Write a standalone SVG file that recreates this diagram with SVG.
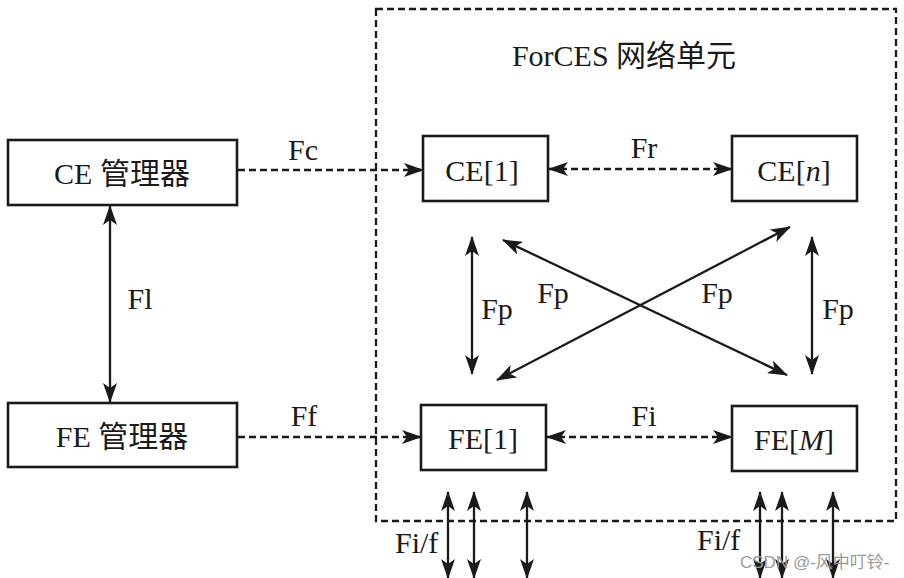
<svg xmlns="http://www.w3.org/2000/svg" width="904" height="578" viewBox="0 0 904 578">
<defs>
<marker id="ah" viewBox="0 0 20 14" markerWidth="20" markerHeight="14" refX="19" refY="7" orient="auto-start-reverse" markerUnits="userSpaceOnUse">
<path d="M0,0 L20,7 L0,14 L5,7 z" fill="#1a1a1a"/>
</marker>
<style>
.box{fill:#fff;stroke:#1a1a1a;stroke-width:2.6}
.t{font-family:"Liberation Serif","Noto Sans CJK SC",serif;font-size:30px;fill:#1a1a1a}
.c{stroke:#1a1a1a;stroke-width:2.3;fill:none}
.d{stroke-dasharray:7 4}
.one{marker-end:url(#ah)}
.two{marker-start:url(#ah);marker-end:url(#ah)}
</style>
</defs>
<rect width="904" height="578" fill="#fff"/>
<g id="forces-ne">
<rect x="376" y="9" width="520" height="512" fill="none" stroke="#1a1a1a" stroke-width="2.3" stroke-dasharray="7 4"/>
<text class="t" x="624" y="66" text-anchor="middle">ForCES 网络单元</text>
</g>
<g id="connectors">
<line class="c d one" x1="238" y1="170" x2="423" y2="170"/>
<line class="c d one" x1="238" y1="437" x2="421" y2="437"/>
<line class="c two" x1="110" y1="206" x2="110" y2="402"/>
<line class="c d two" x1="549" y1="169" x2="732" y2="169"/>
<line class="c d two" x1="547" y1="437" x2="732" y2="437"/>
<line class="c two" x1="472" y1="237" x2="472" y2="374"/>
<line class="c two" x1="812" y1="237" x2="812" y2="374"/>
<line class="c two" x1="503" y1="240" x2="787" y2="375"/>
<line class="c two" x1="790" y1="227" x2="497" y2="380"/>
<line class="c two" x1="448" y1="492" x2="448" y2="578"/>
<line class="c two" x1="474" y1="492" x2="474" y2="578"/>
<line class="c two" x1="527" y1="492" x2="527" y2="578"/>
<line class="c two" x1="760" y1="492" x2="760" y2="578"/>
<line class="c two" x1="782" y1="492" x2="782" y2="578"/>
<line class="c two" x1="833" y1="492" x2="833" y2="578"/>
<text class="t" x="303" y="160" text-anchor="middle">Fc</text>
<text class="t" x="304" y="426" text-anchor="middle">Ff</text>
<text class="t" x="140" y="309" text-anchor="middle">Fl</text>
<text class="t" x="644" y="158" text-anchor="middle">Fr</text>
<text class="t" x="644" y="426" text-anchor="middle">Fi</text>
<text class="t" x="497" y="319" text-anchor="middle">Fp</text>
<text class="t" x="553" y="303" text-anchor="middle">Fp</text>
<text class="t" x="717" y="303" text-anchor="middle">Fp</text>
<text class="t" x="838" y="319" text-anchor="middle">Fp</text>
<text class="t" x="395" y="553">Fi/f</text>
<text class="t" x="697" y="550">Fi/f</text>
</g>
<g id="ce-manager">
<rect class="box" x="8" y="140" width="229" height="65"/>
<text class="t" x="122" y="184" text-anchor="middle">CE 管理器</text>
</g>
<g id="fe-manager">
<rect class="box" x="8" y="403" width="229" height="64"/>
<text class="t" x="122" y="447" text-anchor="middle">FE 管理器</text>
</g>
<g id="ce1">
<rect class="box" x="423" y="136" width="125" height="65"/>
<text class="t" x="482" y="181" text-anchor="middle">CE[1]</text>
</g>
<g id="cen">
<rect class="box" x="732" y="136" width="125" height="65"/>
<text class="t" x="794" y="181" text-anchor="middle">CE[<tspan font-style="italic">n</tspan>]</text>
</g>
<g id="fe1">
<rect class="box" x="421" y="405" width="125" height="65"/>
<text class="t" x="483" y="449" text-anchor="middle">FE[1]</text>
</g>
<g id="fem">
<rect class="box" x="732" y="406" width="125" height="65"/>
<text class="t" x="794" y="450" text-anchor="middle">FE[<tspan font-style="italic">M</tspan>]</text>
</g>
<text x="740" y="568" font-family="'Liberation Sans','Noto Sans CJK SC',sans-serif" font-size="17" fill="#9a9a9a">CSDN @-风中叮铃-</text>
</svg>
